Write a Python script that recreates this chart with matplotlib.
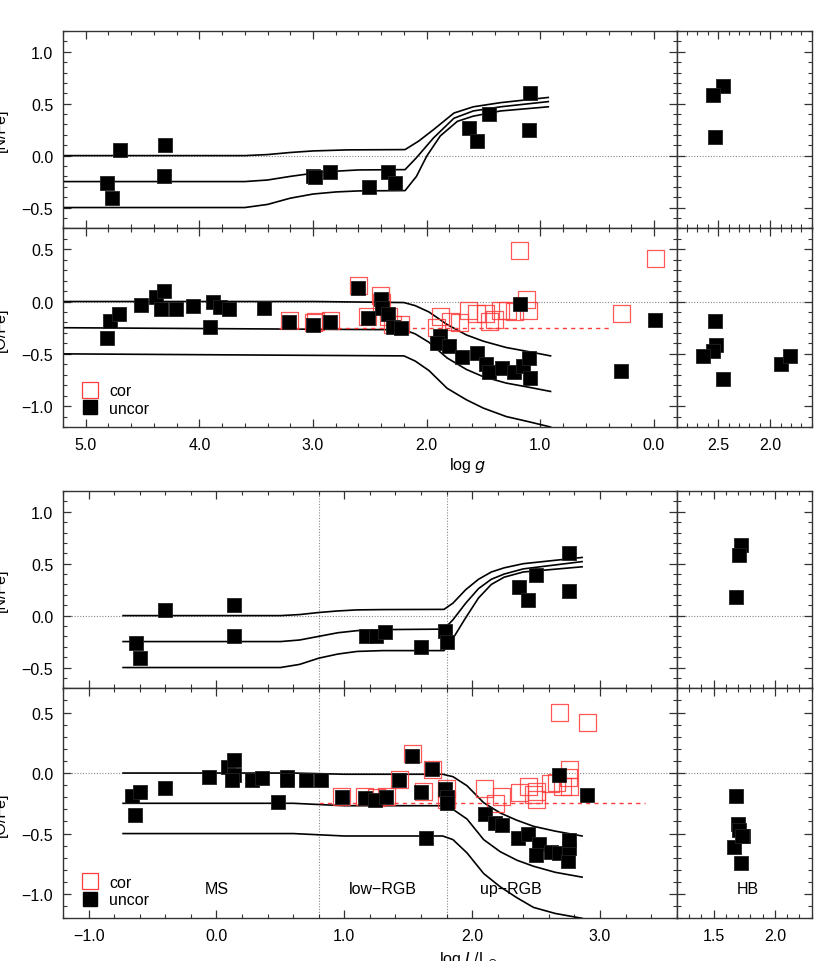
import numpy as np
import matplotlib
matplotlib.use('Agg')
import matplotlib.pyplot as plt
from matplotlib.ticker import MultipleLocator, FuncFormatter
from matplotlib.lines import Line2D

plt.rcParams['font.family'] = ['Liberation Sans', 'DejaVu Sans']
plt.rcParams['font.size'] = 11.5

# ---------------- data: upper figure, x = log g ----------------
logg_N = [4.81, 4.77, 4.70, 4.30, 4.31, 3.00, 2.98, 2.85, 2.51, 2.34, 2.28, 1.63, 1.56, 1.45, 1.09, 1.10]
NFe_g = [-0.26, -0.41, 0.05, 0.10, -0.20, -0.20, -0.21, -0.16, -0.30, -0.16, -0.26, 0.27, 0.14, 0.40, 0.60, 0.25]
hb_logg_N = [2.45, 2.55, 2.53]
hb_NFe_g = [0.67, 0.58, 0.18]

logg_O = [4.81, 4.79, 4.71, 4.51, 4.38, 4.31, 4.34, 4.21, 4.06, 3.91, 3.88, 3.82, 3.74, 3.43,
          3.21, 3.00, 2.85, 2.60, 2.52, 2.40, 2.39, 2.34, 2.30, 2.23, 1.88, 1.91, 1.80, 1.69,
          1.56, 1.48, 1.45, 1.34, 1.23, 1.15, 1.10, 1.09, 1.18, 0.29, -0.01]
OFe_unc_g = [-0.35, -0.19, -0.12, -0.03, 0.04, 0.10, -0.07, -0.07, -0.04, -0.24, 0.00, -0.05, -0.07, -0.06,
             -0.20, -0.22, -0.20, 0.13, -0.16, 0.02, -0.06, -0.12, -0.24, -0.25, -0.33, -0.40, -0.43, -0.53,
             -0.49, -0.60, -0.67, -0.64, -0.67, -0.62, -0.54, -0.73, -0.02, -0.66, -0.18]
logg_cor = [3.21, 3.00, 2.98, 2.85, 2.60, 2.52, 2.40, 2.41, 2.34, 2.30, 2.23, 1.88, 1.91, 1.79,
            1.71, 1.63, 1.56, 1.48, 1.45, 1.40, 1.35, 1.29, 1.23, 1.12, 1.10, 1.18, 0.29, -0.01]
OFe_cor_g = [-0.18, -0.20, -0.19, -0.18, 0.15, -0.14, -0.01, 0.06, -0.14, -0.22, -0.22, -0.14, -0.25, -0.19,
             -0.20, -0.09, -0.11, -0.11, -0.19, -0.17, -0.09, -0.09, -0.10, 0.02, -0.09, 0.49, -0.11, 0.41]
hb_logg_O = [2.53, 2.52, 2.55, 2.65, 2.45, 1.90, 1.81]
hb_OFe_g = [-0.19, -0.42, -0.47, -0.52, -0.74, -0.60, -0.52]

# model curves vs log g
mg_N_x = [[5.3, 3.6, 3.4, 3.2, 3.0, 2.7, 2.19, 2.07, 1.94, 1.76, 1.59, 1.35, 0.93],
          [5.3, 3.6, 3.4, 3.2, 3.0, 2.8, 2.6, 2.19, 2.09, 1.94, 1.76, 1.59, 1.35, 0.93],
          [5.3, 3.6, 3.4, 3.2, 3.0, 2.8, 2.6, 2.19, 2.09, 2.0, 1.88, 1.73, 1.59, 1.35, 0.93]]
mg_N_y = [[0.0, 0.0, 0.01, 0.03, 0.045, 0.055, 0.058, 0.14, 0.25, 0.41, 0.47, 0.51, 0.56],
          [-0.25, -0.25, -0.235, -0.20, -0.17, -0.15, -0.138, -0.135, -0.02, 0.17, 0.36, 0.43, 0.47, 0.52],
          [-0.50, -0.50, -0.47, -0.41, -0.37, -0.35, -0.34, -0.337, -0.20, -0.006, 0.19, 0.33, 0.38, 0.43, 0.47]]
mg_O_x = [5.3, 3.0, 2.2, 2.1, 1.98, 1.82, 1.65, 1.5, 1.3, 1.1, 0.91]
mg_O_y = [[0.0, 0.0, -0.01, -0.04, -0.10, -0.22, -0.32, -0.38, -0.44, -0.48, -0.52],
          [-0.25, -0.265, -0.27, -0.31, -0.39, -0.54, -0.65, -0.72, -0.78, -0.82, -0.86],
          [-0.50, -0.515, -0.52, -0.57, -0.66, -0.83, -0.94, -1.02, -1.10, -1.15, -1.20]]
cor_mean_g = [3.3, 0.4]

# ---------------- data: lower figure, x = log L/Lsun ----------------
logL_N = [-0.63, -0.60, -0.40, 0.14, 0.14, 1.17, 1.25, 1.32, 1.60, 1.79, 1.80, 2.37, 2.44, 2.50, 2.76, 2.76]
NFe_L = [-0.26, -0.41, 0.05, 0.10, -0.20, -0.20, -0.20, -0.16, -0.30, -0.15, -0.25, 0.28, 0.15, 0.39, 0.60, 0.24]
hb_logL_N = [1.72, 1.71, 1.68]
hb_NFe_L = [0.68, 0.58, 0.18]

logL_O = [-0.66, -0.60, -0.64, -0.40, -0.06, 0.09, 0.14, 0.14, 0.12, 0.28, 0.36, 0.48, 0.55, 0.55,
          0.70, 0.82, 0.98, 1.16, 1.24, 1.33, 1.43, 1.53, 1.60, 1.64, 1.69, 1.79, 1.80, 1.80,
          2.10, 2.18, 2.23, 2.36, 2.44, 2.52, 2.50, 2.62, 2.68, 2.75, 2.76, 2.76, 2.68, 2.90]
OFe_unc_L = [-0.19, -0.16, -0.35, -0.12, -0.03, 0.05, 0.11, -0.02, -0.06, -0.06, -0.04, -0.24, -0.03, -0.06,
             -0.06, -0.06, -0.20, -0.21, -0.22, -0.20, -0.06, 0.14, -0.16, -0.54, 0.03, -0.13, -0.20, -0.25,
             -0.34, -0.41, -0.43, -0.54, -0.50, -0.59, -0.68, -0.65, -0.66, -0.73, -0.62, -0.55, -0.02, -0.18]
logL_cor = [0.98, 1.16, 1.25, 1.33, 1.43, 1.53, 1.62, 1.69, 1.80, 1.80, 2.10, 2.18, 2.23, 2.37,
            2.44, 2.48, 2.50, 2.50, 2.61, 2.66, 2.71, 2.75, 2.76, 2.76, 2.68, 2.90]
OFe_cor_L = [-0.19, -0.19, -0.20, -0.19, -0.05, 0.16, -0.15, 0.03, -0.13, -0.22, -0.13, -0.25, -0.19, -0.16,
             -0.11, -0.18, -0.15, -0.22, -0.09, -0.08, -0.11, -0.04, 0.03, -0.11, 0.50, 0.42]
hb_logL_O = [1.68, 1.70, 1.71, 1.74, 1.67, 1.72, 1.73]
hb_OFe_L = [-0.19, -0.42, -0.47, -0.52, -0.61, -0.74, -0.52]

# model curves vs log L
mL_N_x = [-0.73, 0.5, 0.65, 0.8, 0.95, 1.1, 1.3, 1.78, 1.85, 1.95, 2.05, 2.15, 2.25, 2.4, 2.86]
mL_N_y = [[0.0, 0.0, 0.01, 0.03, 0.045, 0.055, 0.058, 0.06, 0.12, 0.25, 0.35, 0.42, 0.46, 0.50, 0.56],
          [-0.25, -0.25, -0.235, -0.20, -0.165, -0.145, -0.135, -0.13, -0.04, 0.12, 0.26, 0.35, 0.40, 0.45, 0.52],
          [-0.50, -0.50, -0.47, -0.41, -0.37, -0.345, -0.337, -0.337, -0.22, -0.02, 0.17, 0.30, 0.37, 0.42, 0.47]]
mL_O_x = [-0.73, 0.6, 1.0, 1.77, 1.85, 1.96, 2.09, 2.22, 2.35, 2.48, 2.65, 2.86]
mL_O_y = [[0.0, 0.0, -0.01, -0.01, -0.03, -0.105, -0.245, -0.33, -0.39, -0.44, -0.48, -0.52],
          [-0.25, -0.25, -0.27, -0.27, -0.30, -0.38, -0.55, -0.65, -0.72, -0.77, -0.82, -0.86],
          [-0.50, -0.50, -0.52, -0.52, -0.55, -0.66, -0.83, -0.94, -1.03, -1.11, -1.16, -1.20]]
cor_mean_L = [0.8, 3.35]
phase_lines = [0.8, 1.8]
phase_names = ['MS', 'low\u2212RGB', 'up\u2212RGB']
phase_x = [0.0, 1.3, 2.3]

RED = '#ff3b3b'
W, H = 830.0, 962.0


def box(x0, y0, x1, y1):
    # pixel box (top-left origin) -> figure fraction
    return [x0 / W, (H - y1) / H, (x1 - x0) / W, (y1 - y0) / H]


fmt = FuncFormatter(lambda v, p: ('%.1f' % v).replace('-', '\u2212'))


def style(ax, xmaj, xmin, xlabels, ylabels):
    ax.set_facecolor('white')
    for s in ax.spines.values():
        s.set_color('#333333')
        s.set_linewidth(1.0)
    ax.xaxis.set_major_locator(MultipleLocator(xmaj))
    ax.xaxis.set_minor_locator(MultipleLocator(xmin))
    ax.yaxis.set_major_locator(MultipleLocator(0.5))
    ax.yaxis.set_minor_locator(MultipleLocator(0.1))
    ax.xaxis.set_major_formatter(fmt)
    ax.yaxis.set_major_formatter(fmt)
    ax.tick_params(which='both', direction='in', top=True, right=True,
                   labelbottom=xlabels, labelleft=ylabels, color='#333333')
    ax.tick_params(which='major', length=6, width=0.9, pad=7, labelsize=11.5)
    ax.tick_params(which='minor', length=3, width=0.8)
    ax.axhline(0, color='#888888', lw=0.8, ls=(0, (1, 1.5)), zorder=0)


def squares(ax, x, y):
    ax.scatter(x, y, marker='s', s=90, c='black', edgecolors='#222222', linewidths=0.6, zorder=4)


def open_squares(ax, x, y):
    ax.scatter(x, y, marker='s', s=150, facecolors='none', edgecolors=RED, linewidths=0.9,
               alpha=0.85, zorder=3)


def add_legend(ax):
    h = [Line2D([], [], ls='none', marker='s', ms=12, mfc='none', mec=RED, mew=0.9),
         Line2D([], [], ls='none', marker='s', ms=9.5, mfc='black', mec='black')]
    ax.legend(h, ['cor', 'uncor'], loc='lower left', frameon=False, fontsize=11.5,
              handletextpad=0.2, borderaxespad=0.3, labelspacing=0.15,
              bbox_to_anchor=(0.0, 0.0))


fig = plt.figure(figsize=(W / 100, H / 100), dpi=100)

# ---------- upper figure ----------
a1 = fig.add_axes(box(63, 32, 676.7, 229.3))
a2 = fig.add_axes(box(63, 229.3, 676.7, 428))
h1 = fig.add_axes(box(676.7, 32, 811.7, 229.3))
h2 = fig.add_axes(box(676.7, 229.3, 811.7, 428))

for ax in (a1, a2):
    ax.set_xlim(5.2, -0.2)
for ax in (h1, h2):
    ax.set_xlim(2.9, 1.6)
for ax in (a1, h1):
    ax.set_ylim(-0.7, 1.2)
for ax in (a2, h2):
    ax.set_ylim(-1.2, 0.7)

style(a1, 1.0, 0.2, False, True)
style(a2, 1.0, 0.2, True, True)
style(h1, 0.5, 0.1, False, False)
style(h2, 0.5, 0.1, True, False)

for xs, ys in zip(mg_N_x, mg_N_y):
    a1.plot(xs, ys, color='black', lw=1.2, zorder=2)
for ys in mg_O_y:
    a2.plot(mg_O_x, ys, color='black', lw=1.2, zorder=2)
a2.plot(cor_mean_g, [-0.25, -0.25], color=RED, lw=1.0, ls=(0, (3, 3)), zorder=2)

squares(a1, logg_N, NFe_g)
squares(h1, hb_logg_N, hb_NFe_g)
open_squares(a2, logg_cor, OFe_cor_g)
squares(a2, logg_O, OFe_unc_g)
squares(h2, hb_logg_O, hb_OFe_g)
add_legend(a2)

fig.text(468 / W, (H - 466) / H, 'log $g$', ha='center', va='center', fontsize=11.5)

# ---------- lower figure ----------
b1 = fig.add_axes(box(63, 492, 676.7, 689.3))
b2 = fig.add_axes(box(63, 689.3, 676.7, 919.3))
k1 = fig.add_axes(box(676.7, 492, 811.7, 689.3))
k2 = fig.add_axes(box(676.7, 689.3, 811.7, 919.3))

for ax in (b1, b2):
    ax.set_xlim(-1.2, 3.6)
for ax in (k1, k2):
    ax.set_xlim(1.2, 2.3)
for ax in (b1, k1):
    ax.set_ylim(-0.7, 1.2)
for ax in (b2, k2):
    ax.set_ylim(-1.2, 0.7)

style(b1, 1.0, 0.2, False, True)
style(b2, 1.0, 0.2, True, True)
style(k1, 0.5, 0.1, False, False)
style(k2, 0.5, 0.1, True, False)

for ax in (b1, b2):
    for xv in phase_lines:
        ax.axvline(xv, color='#888888', lw=0.8, ls=(0, (1, 1.5)), zorder=0)

for ys in mL_N_y:
    b1.plot(mL_N_x, ys, color='black', lw=1.2, zorder=2)
for ys in mL_O_y:
    b2.plot(mL_O_x, ys, color='black', lw=1.2, zorder=2)
b2.plot(cor_mean_L, [-0.25, -0.25], color=RED, lw=1.0, ls=(0, (3, 3)), zorder=2)

squares(b1, logL_N, NFe_L)
squares(k1, hb_logL_N, hb_NFe_L)
open_squares(b2, logL_cor, OFe_cor_L)
squares(b2, logL_O, OFe_unc_L)
squares(k2, hb_logL_O, hb_OFe_L)
add_legend(b2)

for name, xv in zip(phase_names, phase_x):
    b2.text(xv, -0.95, name, ha='center', va='center', fontsize=11.5)
k2.text(1.78, -0.95, 'HB', ha='center', va='center', fontsize=11.5)

fig.text(468 / W, (H - 950) / H, 'log $L$/L$_{\\odot}$', ha='center', va='top', fontsize=11.5)

# y labels, cut by the left border as in the original
for yc, lab in [(130, '[N/Fe]'), (330, '[O/Fe]'), (590, '[N/Fe]'), (815, '[O/Fe]')]:
    fig.text(0.0, (H - yc) / H, lab, rotation=90, ha='center', va='center', fontsize=11.5)

fig.savefig('out.png', dpi=100)
